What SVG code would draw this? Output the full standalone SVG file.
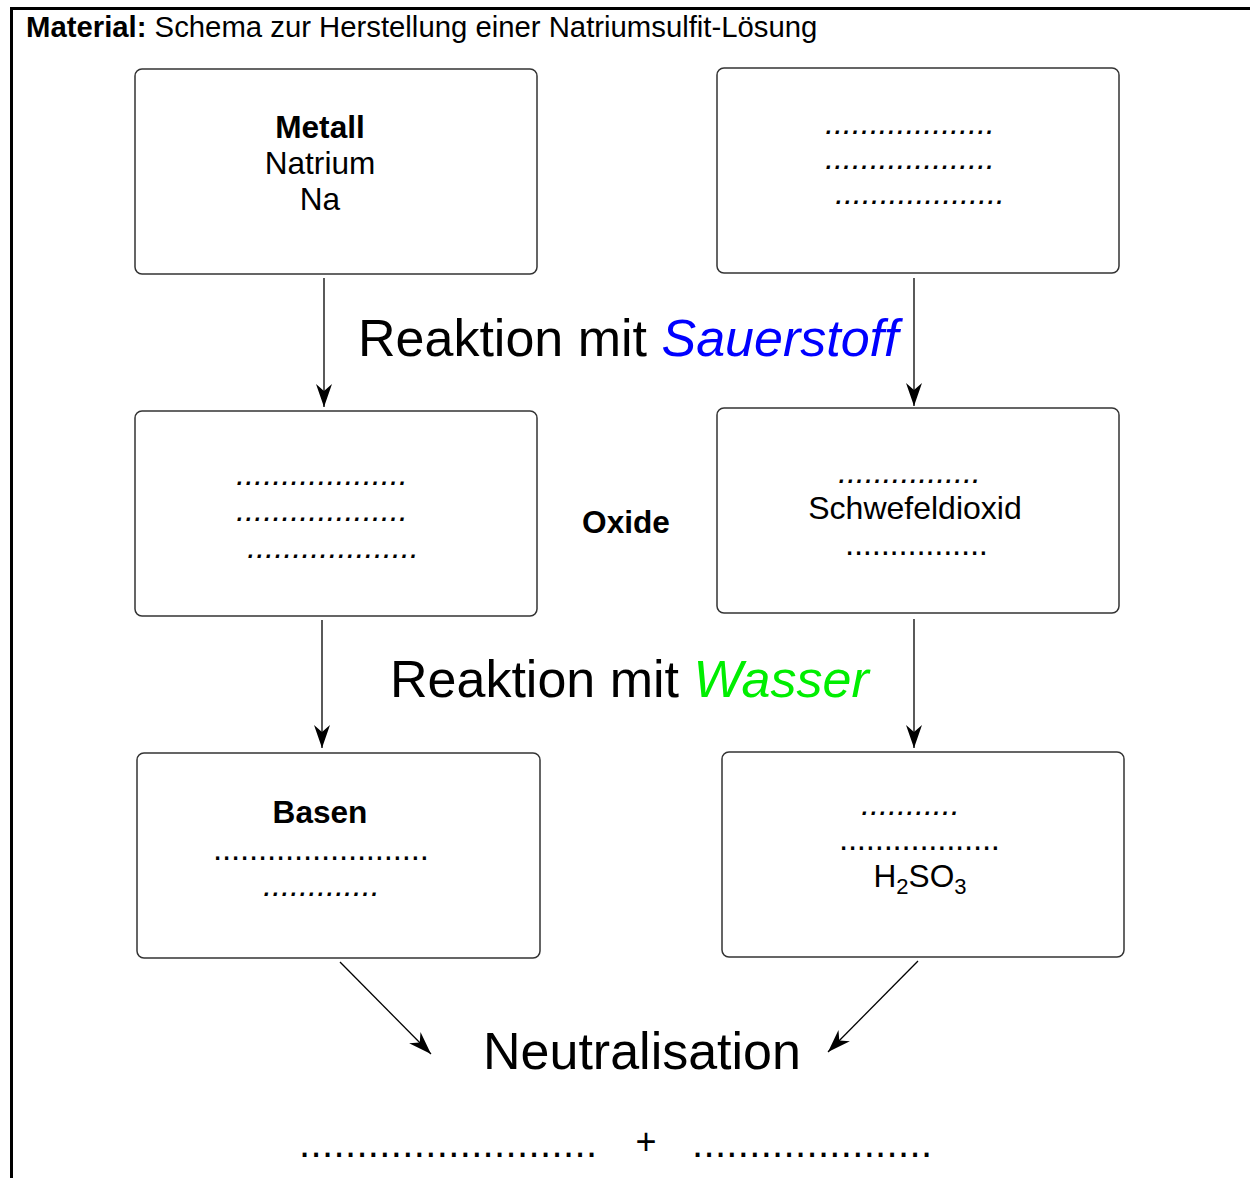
<svg xmlns="http://www.w3.org/2000/svg" width="1250" height="1178" viewBox="0 0 1250 1178">
<style>
text{font-family:"Liberation Sans",Arial,sans-serif;fill:#000}
.box{fill:#fff;stroke:#333;stroke-width:1.5}
.t{font-size:31.6px;text-anchor:middle}
.b{font-weight:bold}
.d{font-size:33px}
.i{font-style:italic}
.big{font-size:52px}
.con{stroke:#000;stroke-width:1.3;fill:none;marker-end:url(#ah)}
</style>
<defs>
<marker id="ah" markerUnits="userSpaceOnUse" viewBox="0 0 23 16" refX="23" refY="8" markerWidth="23" markerHeight="16" orient="auto">
<path d="M23,8 L0,0 L7,8 L0,16 Z" fill="#000"/>
</marker>
</defs>
<rect width="1250" height="1178" fill="#fff"/>
<g id="frame">
<path d="M11.5,8 V1178 M10,8.5 H1250" stroke="#000" stroke-width="3" fill="none"/>
<text x="26" y="37" style="font-size:29.3px"><tspan font-weight="bold">Material:</tspan> Schema zur Herstellung einer Natriumsulfit-Lösung</text>
</g>
<g id="connectors">
<line class="con" x1="324" y1="278" x2="324" y2="407"/>
<line class="con" x1="914" y1="278" x2="914" y2="406"/>
<line class="con" x1="322" y1="620" x2="322" y2="748"/>
<line class="con" x1="914" y1="619" x2="914" y2="748"/>
<line class="con" x1="340" y1="962" x2="431" y2="1054"/>
<line class="con" x1="918" y1="961" x2="828" y2="1052"/>
</g>
<g id="node-metall">
<rect class="box" x="135" y="69" width="402" height="205" rx="7"/>
<text class="t b" x="320" y="138">Metall</text>
<text class="t" x="320" y="174">Natrium</text>
<text class="t" x="320" y="210">Na</text>
</g>
<g id="node-nichtmetall">
<rect class="box" x="717" y="68" width="402" height="205" rx="7"/>
<text class="d i" x="825" y="134" textLength="170">...................</text>
<text class="d i" x="825" y="169" textLength="170">...................</text>
<text class="d i" x="835" y="204" textLength="170">...................</text>
</g>
<g id="node-metalloxid">
<rect class="box" x="135" y="411" width="402" height="205" rx="7"/>
<text class="d i" x="236" y="485" textLength="172">...................</text>
<text class="d i" x="236" y="521" textLength="172">...................</text>
<text class="d i" x="247" y="558" textLength="172">...................</text>
</g>
<g id="label-oxide">
<text class="t b" x="626" y="533">Oxide</text>
</g>
<g id="node-schwefeldioxid">
<rect class="box" x="717" y="408" width="402" height="205" rx="7"/>
<text class="d i" x="838" y="483" textLength="143">................</text>
<text class="t" x="915" y="519" style="font-size:32px">Schwefeldioxid</text>
<text class="d" x="845" y="555" textLength="143">................</text>
</g>
<g id="label-sauerstoff">
<text class="big" x="358" y="356">Reaktion mit <tspan fill="#0000ff" font-style="italic">Sauerstoff</tspan></text>
</g>
<g id="label-wasser">
<text class="big" x="390" y="697">Reaktion mit <tspan fill="#00ee00" font-style="italic">Wasser</tspan></text>
</g>
<g id="node-basen">
<rect class="box" x="137" y="753" width="403" height="205" rx="7"/>
<text class="t b" x="320" y="823">Basen</text>
<text class="d" x="213" y="860" textLength="216">........................</text>
<text class="d i" x="263" y="896" textLength="117">.............</text>
</g>
<g id="node-saeure">
<rect class="box" x="722" y="752" width="402" height="205" rx="7"/>
<text class="d i" x="861" y="815" textLength="99">...........</text>
<text class="d" x="839" y="850" textLength="161">..................</text>
<text class="t" x="920" y="887">H<tspan font-size="22" dy="7">2</tspan><tspan dy="-7">SO</tspan><tspan font-size="22" dy="7">3</tspan></text>
</g>
<g id="label-neutralisation">
<text class="big" x="642" y="1069" text-anchor="middle">Neutralisation</text>
</g>
<g id="label-equation">
<text x="299" y="1157" style="font-size:40px" textLength="298">..........................</text>
<text x="646" y="1154" style="font-size:36px" text-anchor="middle">+</text>
<text x="692" y="1157" style="font-size:40px" textLength="240">.....................</text>
</g>
</svg>
